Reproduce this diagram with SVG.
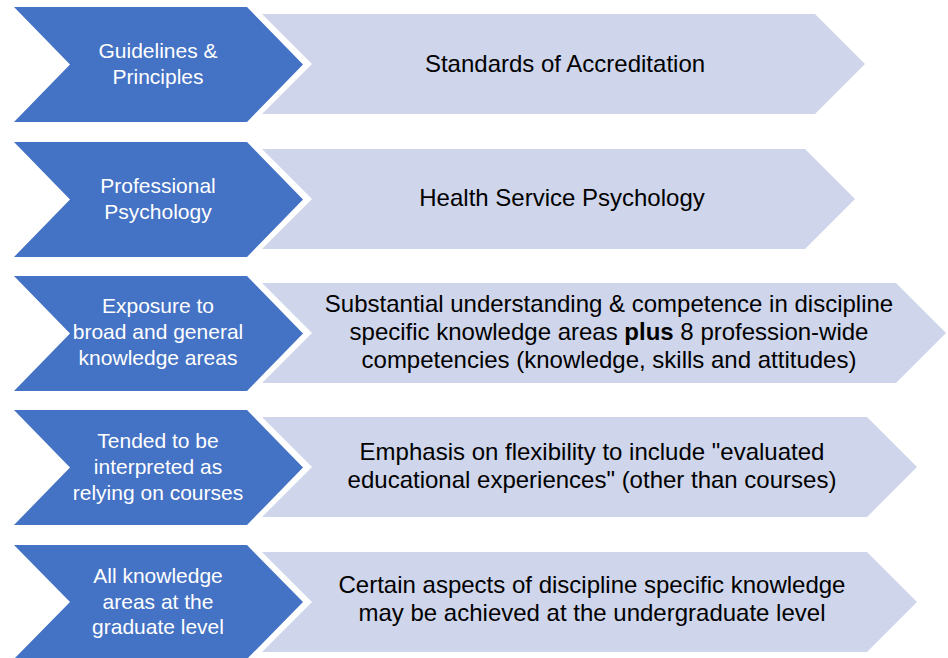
<svg xmlns="http://www.w3.org/2000/svg" width="948" height="658" viewBox="0 0 948 658">
<style>
.blue{fill:#4472C4;}
.light{fill:#CFD5EA;}
.bt{font-family:"Liberation Sans",Arial,sans-serif;font-size:21px;fill:#FFFFFF;text-anchor:middle;}
.lt{font-family:"Liberation Sans",Arial,sans-serif;font-size:24px;fill:#000000;text-anchor:middle;}
</style>
<rect width="948" height="658" fill="#FFFFFF"/>
<g id="row1-detail"><polygon class="light" points="262,14 815,14 865,64 815,114 262,114 312,64"/>
<text class="lt" x="565" y="72">Standards of Accreditation</text></g>
<g id="row1-label"><polygon class="blue" points="14,7 247,7 303,64.5 247,122 14,122 70,64.5"/>
<text class="bt" x="158" y="58">Guidelines &amp;</text><text class="bt" x="158" y="84">Principles</text></g>

<g id="row2-detail"><polygon class="light" points="262,149 805,149 855,199 805,249 262,249 312,199"/>
<text class="lt" x="562" y="206">Health Service Psychology</text></g>
<g id="row2-label"><polygon class="blue" points="14,142 247,142 303,199.5 247,257 14,257 70,199.5"/>
<text class="bt" x="158" y="193">Professional</text><text class="bt" x="158" y="219">Psychology</text></g>

<g id="row3-detail"><polygon class="light" points="262,283 896,283 946,333 896,383 262,383 312,333"/>
<text class="lt" x="609" y="312">Substantial understanding &amp; competence in discipline</text>
<text class="lt" x="609" y="340">specific knowledge areas <tspan font-weight="bold">plus</tspan> 8 profession-wide</text>
<text class="lt" x="609" y="368">competencies (knowledge, skills and attitudes)</text></g>
<g id="row3-label"><polygon class="blue" points="14,276 247,276 303,333.5 247,391 14,391 70,333.5"/>
<text class="bt" x="158" y="313">Exposure to</text><text class="bt" x="158" y="339">broad and general</text><text class="bt" x="158" y="365">knowledge areas</text></g>

<g id="row4-detail"><polygon class="light" points="262,417 867,417 917,467 867,517 262,517 312,467"/>
<text class="lt" x="592" y="460">Emphasis on flexibility to include "evaluated</text>
<text class="lt" x="592" y="488">educational experiences" (other than courses)</text></g>
<g id="row4-label"><polygon class="blue" points="14,410 247,410 303,467.5 247,525 14,525 70,467.5"/>
<text class="bt" x="158" y="448">Tended to be</text><text class="bt" x="158" y="474">interpreted as</text><text class="bt" x="158" y="500">relying on courses</text></g>

<g id="row5-detail"><polygon class="light" points="262,552 867,552 917,602 867,652 262,652 312,602"/>
<text class="lt" x="592" y="593">Certain aspects of discipline specific knowledge</text>
<text class="lt" x="592" y="621">may be achieved at the undergraduate level</text></g>
<g id="row5-label"><polygon class="blue" points="14,545 247,545 303,602 247,659 14,659 70,602"/>
<text class="bt" x="158" y="583">All knowledge</text><text class="bt" x="158" y="609">areas at the</text><text class="bt" x="158" y="634">graduate level</text></g>
<g id="connectors"/>
</svg>
